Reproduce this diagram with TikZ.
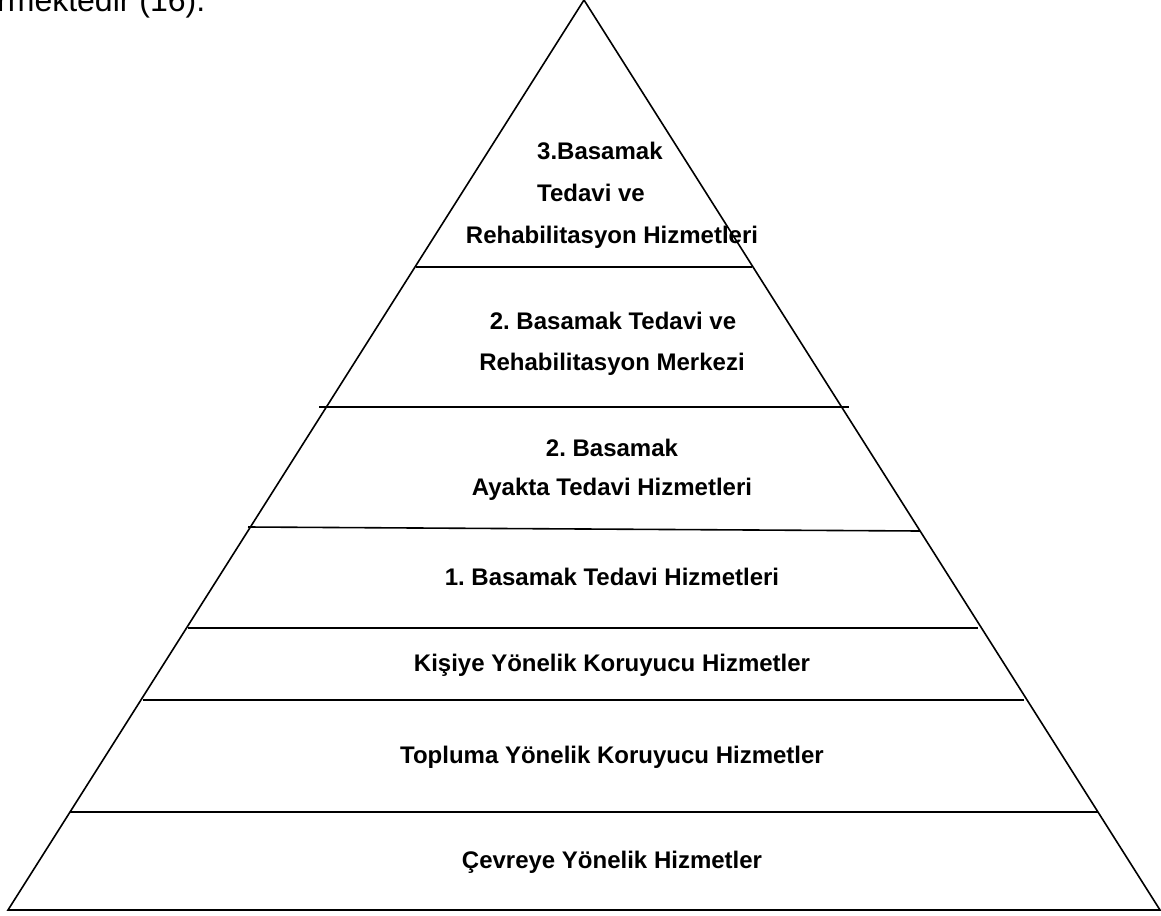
\documentclass[tikz,border=0pt]{standalone}
\usepackage{fontspec}
\setmainfont{Liberation Sans}
\frenchspacing
\begin{document}
\begin{tikzpicture}[x=1pt,y=-1pt,
  lbl/.style={font=\fontsize{24}{28}\selectfont\bfseries, inner sep=0pt, anchor=base},
  lblw/.style={lbl, anchor=base west},
  body/.style={font=\fontsize{32}{36}\selectfont, inner sep=0pt, anchor=base west},
  edge/.style={line width=1.6pt, line join=miter, line cap=butt}]
\useasboundingbox (0,0) rectangle (1161,915);
% outline
\coordinate (apex) at (584,0);
\coordinate (bl) at (8,910);
\coordinate (br) at (1160,910);
\draw[edge] (bl) -- (apex) -- (br) -- cycle;
% level separators
\coordinate (s1l) at (416,267); \coordinate (s1r) at (752,267);
\coordinate (s2l) at (319,407); \coordinate (s2r) at (849,407);
\coordinate (s3l) at (248,527); \coordinate (s3r) at (920,531);
\coordinate (s4l) at (188,628); \coordinate (s4r) at (978,628);
\coordinate (s5l) at (143,700); \coordinate (s5r) at (1024,700);
\coordinate (s6l) at (70,812);  \coordinate (s6r) at (1098,812);
\draw[edge] (s1l) -- (s1r);
\draw[edge] (s2l) -- (s2r);
\draw[edge] (s3l) -- (s3r);
\draw[edge] (s4l) -- (s4r);
\draw[edge] (s5l) -- (s5r);
\draw[edge] (s6l) -- (s6r);
% labels
\node[lblw] (t1a) at (537,159) {3.Basamak};
\node[lblw] (t1b) at (537,201) {Tedavi ve};
\node[lbl]  (t1c) at (612,243) {Rehabilitasyon Hizmetleri};
\node[lbl]  (t2a) at (613,329) {2. Basamak Tedavi ve};
\node[lbl]  (t2b) at (612,370) {Rehabilitasyon Merkezi};
\node[lbl]  (t3a) at (612,456) {2. Basamak};
\node[lbl]  (t3b) at (612,495) {Ayakta Tedavi Hizmetleri};
\node[lbl]  (t4)  at (612,585) {1. Basamak Tedavi Hizmetleri};
\node[lbl]  (t5)  at (612,671) {Kişiye Yönelik Koruyucu Hizmetler};
\node[lbl]  (t6)  at (612,763) {Topluma Yönelik Koruyucu Hizmetler};
\node[lbl]  (t7)  at (612,868) {Çevreye Yönelik Hizmetler};
% cut-off running text at top left
\node[body] (run) at (-3,12) {rmektedir (16).};
\end{tikzpicture}
\end{document}
